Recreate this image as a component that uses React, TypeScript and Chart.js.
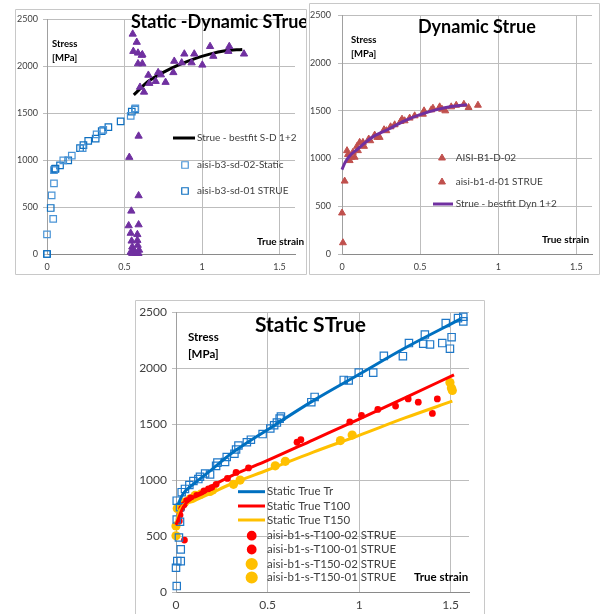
import React, { useEffect, useRef } from "react";
import { Chart, registerables } from "chart.js";

Chart.register(...registerables);

const FONT = "Lato, 'Noto Sans', sans-serif";

// ---------------- Chart A : Static -Dynamic STrue ----------------
const sd02Strain = [0, 0.04, 0.03, 0.045, 0.045, 0.105, 0.16, 0.23, 0.32, 0.363, 0.54, 0.57];
const sd02Stress = [210, 375, 625, 753, 893, 997, 1049, 1128, 1275, 1323, 1472, 1552];
const sd01Strain = [0, 0, 0.024, 0.05, 0.055, 0.084, 0.137, 0.213, 0.235, 0.266, 0.314, 0.353, 0.396, 0.475, 0.547, 0.568];
const sd01Stress = [0, 0, 490, 905, 910, 945, 997, 1128, 1160, 1205, 1229, 1309, 1351, 1413, 1517, 1542];
const dynSdStrain = [0.553, 0.579, 0.557, 0.587, 0.611, 0.615, 0.587, 0.615, 0.6, 0.626, 0.654, 0.66, 0.701, 0.717, 0.735, 0.765, 0.815, 0.821, 0.869, 0.886, 0.933, 0.95, 1.002, 1.052, 1.073, 1.17, 1.176, 1.271,
  0.591, 0.531, 0.591, 0.544, 0.527, 0.591, 0.54, 0.583, 0.546, 0.583, 0.585, 0.55, 0.557, 0.594, 0.54, 0.574, 0.55, 0.59];
const dynSdStress = [2344, 2257, 2160, 2142, 2118, 2125, 2028, 2028, 1778, 1726, 1906, 1819, 1840, 1934, 1910, 1830, 1934, 2055, 2038, 2132, 2038, 2132, 2014, 2212, 2108, 2160, 2212, 2132,
  1257, 1031, 622, 458, 302, 312, 222, 208, 139, 146, 94, 76, 42, 42, 20, 7, 7, 7];
const fitSdStrain = [0.56, 0.65, 0.75, 0.85, 0.95, 1.05, 1.15, 1.26];
const fitSdStress = [1695, 1835, 1935, 2015, 2080, 2130, 2165, 2180];

// ---------------- Chart B : Dynamic Strue ----------------
const d02Strain = [0.006, 0.017, 0.038, 0.06, 0.081, 0.102, 0.134, 0.171, 0.209, 0.241, 0.284, 0.337, 0.384, 0.433, 0.518, 0.571, 0.625, 0.661, 0.731, 0.81];
const d02Stress = [118, 764, 1042, 1014, 1014, 1083, 1170, 1205, 1246, 1222, 1292, 1354, 1413, 1424, 1465, 1510, 1542, 1500, 1559, 1535];
const d01Strain = [0, 0.032, 0.049, 0.07, 0.096, 0.113, 0.141, 0.181, 0.226, 0.269, 0.311, 0.375, 0.401, 0.465, 0.525, 0.582, 0.64, 0.699, 0.78, 0.87];
const d01Stress = [430, 1083, 979, 1066, 1128, 1170, 1128, 1187, 1222, 1302, 1333, 1389, 1396, 1448, 1500, 1528, 1517, 1542, 1569, 1559];
const fitDynStrain = [0, 0.02, 0.05, 0.1, 0.15, 0.2, 0.3, 0.4, 0.5, 0.6, 0.7, 0.8];
const fitDynStress = [885, 960, 1030, 1100, 1170, 1230, 1310, 1395, 1460, 1510, 1545, 1565];

// ---------------- Chart C : Static STrue ----------------
const trStrain = [0.004, 0, 0.007, 0.026, 0.026, 0.016, 0.022, 0.004, 0.022, 0.004, 0.031, 0.049, 0.073, 0.095, 0.122, 0.131, 0.159, 0.186, 0.219, 0.226, 0.268, 0.277, 0.319, 0.328, 0.341, 0.387, 0.409, 0.473, 0.515, 0.536, 0.551, 0.566, 0.573, 0.739, 0.757, 0.916, 0.943, 0.998, 1.077, 1.135, 1.239, 1.272, 1.35, 1.359, 1.387, 1.454, 1.473, 1.496, 1.505, 1.54, 1.569, 1.569];
const trStress = [53, 217, 276, 276, 381, 487, 628, 648, 757, 816, 892, 921, 956, 992, 1009, 1030, 1059, 1050, 1127, 1156, 1162, 1206, 1235, 1273, 1309, 1338, 1361, 1411, 1461, 1490, 1514, 1549, 1567, 1696, 1743, 1895, 1890, 1960, 1960, 2110, 2107, 2224, 2218, 2300, 2212, 2224, 2403, 2174, 2277, 2447, 2459, 2418];
const t100a02Strain = [0.046, 0.022, 0.044, 0.08, 0.137, 0.177, 0.219, 0.328, 0.661, 0.949, 1.102, 1.268, 1.4];
const t100a02Stress = [464, 687, 780, 840, 868, 921, 962, 1068, 1338, 1520, 1631, 1725, 1596];
const t100a01Strain = [0.018, 0.031, 0.058, 0.113, 0.153, 0.195, 0.281, 0.396, 0.682, 1.013, 1.199, 1.323, 1.427];
const t100a01Stress = [634, 745, 816, 863, 904, 933, 1015, 1109, 1361, 1578, 1661, 1696, 1725];
const t150a02Strain = [0, 0.007, 0.049, 0.104, 0.186, 0.314, 0.542, 0.898, 1.496, 1.504];
const t150a02Stress = [502, 745, 804, 863, 898, 962, 1127, 1353, 1872, 1822];
const t150a01Strain = [0, 0.026, 0.077, 0.135, 0.2, 0.35, 0.597, 0.962, 1.509];
const t150a01Stress = [590, 757, 833, 874, 912, 1000, 1168, 1402, 1801];
const fitTrStrain = [0.01, 0.04, 0.1, 0.2, 0.3, 0.5, 0.75, 1.0, 1.25, 1.555];
const fitTrStress = [780, 880, 970, 1100, 1235, 1450, 1710, 1945, 2180, 2440];
const fitT100Strain = [0, 0.04, 0.1, 0.2, 0.3, 0.5, 0.75, 1.0, 1.25, 1.518];
const fitT100Stress = [600, 760, 850, 950, 1035, 1175, 1360, 1545, 1735, 1940];
const fitT150Strain = [0, 0.022, 0.1, 0.2, 0.3, 0.5, 0.75, 1.0, 1.25, 1.509];
const fitT150Stress = [600, 736, 815, 890, 965, 1090, 1250, 1400, 1555, 1705];

const xTicks = [0, 0.5, 1, 1.5];
const yTicks = [0, 500, 1000, 1500, 2000, 2500];

const zip = (xs: number[], ys: number[]) => xs.map((x, i) => ({ x, y: ys[i] }));

type TextItem = { text: string; x: number; y: number; font: string; color?: string };
type LegendItem = { ds: number; x: number; y: number; tx: number; len?: number };
type Overlay = {
  texts: TextItem[];
  legend: LegendItem[];
  legendFont: string;
  frame: { bottom: boolean };
};

function drawSymbol(ctx: CanvasRenderingContext2D, ds: any, x: number, y: number) {
  const r = ds.pointRadius;
  ctx.save();
  ctx.lineWidth = ds.pointBorderWidth ?? 1;
  ctx.strokeStyle = ds.pointBorderColor;
  ctx.fillStyle = ds.pointBackgroundColor;
  ctx.beginPath();
  if (ds.pointStyle === "rect") {
    const s = Math.SQRT1_2 * r;
    ctx.rect(x - s, y - s, 2 * s, 2 * s);
  } else if (ds.pointStyle === "triangle") {
    for (let k = 0; k < 3; k++) {
      const a = (k * 2 * Math.PI) / 3;
      const px = x + Math.sin(a) * r;
      const py = y - Math.cos(a) * r;
      if (k === 0) ctx.moveTo(px, py); else ctx.lineTo(px, py);
    }
    ctx.closePath();
  } else {
    ctx.arc(x, y, r, 0, Math.PI * 2);
  }
  ctx.fill();
  ctx.stroke();
  ctx.restore();
}

function makeOverlay(o: Overlay) {
  return {
    id: "overlay",
    afterDatasetsDraw(chart: any) {
      const ctx: CanvasRenderingContext2D = chart.ctx;
      ctx.save();
      ctx.textBaseline = "middle";
      ctx.textAlign = "left";
      for (const t of o.texts) {
        ctx.font = t.font;
        ctx.fillStyle = t.color || "#000";
        ctx.fillText(t.text, t.x, t.y);
      }
      for (const it of o.legend) {
        const ds = chart.data.datasets[it.ds];
        if (it.len) {
          ctx.strokeStyle = ds.borderColor;
          ctx.lineWidth = ds.borderWidth;
          ctx.beginPath();
          ctx.moveTo(it.x, it.y);
          ctx.lineTo(it.x + it.len, it.y);
          ctx.stroke();
        } else {
          drawSymbol(ctx, ds, it.x, it.y);
        }
        ctx.font = o.legendFont;
        ctx.fillStyle = "#404040";
        ctx.fillText(ds.label, it.tx, it.y);
      }
      // frame
      const w = chart.width, h = chart.height;
      ctx.strokeStyle = "#c8c8c8";
      ctx.lineWidth = 1;
      ctx.beginPath();
      ctx.moveTo(0.5, o.frame.bottom ? h - 0.5 : h + 2);
      ctx.lineTo(0.5, 0.5);
      ctx.lineTo(w - 0.5, 0.5);
      ctx.lineTo(w - 0.5, o.frame.bottom ? h - 0.5 : h + 2);
      if (o.frame.bottom) ctx.lineTo(0.5, h - 0.5);
      ctx.stroke();
      ctx.restore();
    },
  };
}

type Geo = {
  yW: number; xH: number; padTop: number; padRight: number;
  tickFont: number; yTickLen: number; yPad: number; xPad: number;
};

function makeOptions(g: Geo) {
  return {
    animation: false,
    responsive: false,
    maintainAspectRatio: false,
    events: [],
    layout: { padding: { left: 0, right: g.padRight, top: g.padTop, bottom: 0 } },
    plugins: { legend: { display: false }, title: { display: false }, tooltip: { enabled: false } },
    scales: {
      x: {
        type: "linear",
        position: "bottom",
        min: 0,
        max: 1.6,
        afterFit: (s: any) => { s.height = g.xH; },
        afterBuildTicks: (s: any) => { s.ticks = xTicks.map((v) => ({ value: v })); },
        ticks: {
          autoSkip: false,
          maxRotation: 0,
          padding: g.xPad,
          color: "#404040",
          font: { family: FONT, size: g.tickFont },
          callback: (v: any) => String(v),
        },
        grid: { color: "#bdbdbd", lineWidth: 1, drawTicks: false },
        border: { color: "#8a8a8a", width: 1 },
      },
      y: {
        type: "linear",
        position: "left",
        min: 0,
        max: 2500,
        afterFit: (s: any) => { s.width = g.yW; },
        afterBuildTicks: (s: any) => { s.ticks = yTicks.map((v) => ({ value: v })); },
        ticks: {
          autoSkip: false,
          padding: g.yPad,
          color: "#404040",
          font: { family: FONT, size: g.tickFont },
          callback: (v: any) => String(v),
        },
        grid: { color: "#bdbdbd", lineWidth: 1, tickLength: g.yTickLen, drawTicks: true },
        border: { color: "#a0a0a0", width: 1 },
      },
    },
  };
}

const lineDs = (label: string, xs: number[], ys: number[], color: string, width: number) => ({
  type: "scatter",
  label,
  data: zip(xs, ys),
  showLine: true,
  borderColor: color,
  borderWidth: width,
  cubicInterpolationMode: "monotone",
  pointRadius: 0,
  pointHoverRadius: 0,
  clip: false,
});

const markDs = (label: string, xs: number[], ys: number[], style: string, r: number, stroke: string, fill: string, bw = 1) => ({
  type: "scatter",
  label,
  data: zip(xs, ys),
  showLine: false,
  pointStyle: style,
  pointRadius: r,
  pointHoverRadius: r,
  pointBorderColor: stroke,
  pointBackgroundColor: fill,
  pointBorderWidth: bw,
  borderColor: stroke,
  backgroundColor: fill,
  clip: false,
});

function buildA() {
  const datasets = [
    markDs("aisi-b3-sd-dyn", dynSdStrain, dynSdStress, "triangle", 4.2, "#7030a0", "#7030a0"),
    markDs("aisi-b3-sd-02-Static", sd02Strain, sd02Stress, "rect", 4.6, "#4a94d6", "rgba(0,0,0,0)", 1.2),
    markDs("aisi-b3-sd-01 STRUE", sd01Strain, sd01Stress, "rect", 4.6, "#0e6fc0", "rgba(0,0,0,0)", 1.2),
    lineDs("Strue - bestfit S-D 1+2", fitSdStrain, fitSdStress, "#000000", 3),
  ];
  const bold = (s: number) => `bold ${s}px ${FONT}`;
  return {
    type: "scatter",
    data: { datasets },
    options: makeOptions({ yW: 32, xH: 21, padTop: 6, padRight: 12, tickFont: 9, yTickLen: 4, yPad: 5, xPad: 8 }),
    plugins: [makeOverlay({
      texts: [
        { text: "Static -Dynamic STrue", x: 116, y: 13, font: bold(18) },
        { text: "Stress", x: 37, y: 34.5, font: bold(9.5) },
        { text: "[MPa]", x: 37, y: 48.5, font: bold(9.5) },
        { text: "True strain", x: 242, y: 233, font: bold(10) },
      ],
      legend: [
        { ds: 3, x: 158, y: 129, tx: 182, len: 22 },
        { ds: 1, x: 170, y: 156, tx: 182 },
        { ds: 2, x: 170, y: 182, tx: 182 },
      ],
      legendFont: `10px ${FONT}`,
      frame: { bottom: true },
    })],
  };
}

function buildB() {
  const datasets = [
    lineDs("Strue - bestfit Dyn 1+2", fitDynStrain, fitDynStress, "#7030a0", 3),
    markDs("AISI-B1-D-02", d02Strain, d02Stress, "triangle", 4, "#c0504d", "#c0504d"),
    markDs("aisi-b1-d-01 STRUE", d01Strain, d01Stress, "triangle", 4, "#c0504d", "#c0504d"),
  ];
  const bold = (s: number) => `bold ${s}px ${FONT}`;
  return {
    type: "scatter",
    data: { datasets },
    options: makeOptions({ yW: 33, xH: 21, padTop: 11, padRight: 8, tickFont: 9, yTickLen: 4, yPad: 7, xPad: 8 }),
    plugins: [makeOverlay({
      texts: [
        { text: "Dynamic Strue", x: 109, y: 24, font: bold(18) },
        { text: "Stress", x: 42, y: 37, font: bold(9.5) },
        { text: "[MPa]", x: 42, y: 50.7, font: bold(9.5) },
        { text: "True strain", x: 233, y: 236.3, font: bold(10) },
      ],
      legend: [
        { ds: 1, x: 133, y: 155, tx: 146.7 },
        { ds: 2, x: 133, y: 179, tx: 146.7 },
        { ds: 0, x: 124, y: 201, tx: 146.7, len: 20 },
      ],
      legendFont: `10px ${FONT}`,
      frame: { bottom: true },
    })],
  };
}

function buildC() {
  const datasets = [
    lineDs("Static True Tr", fitTrStrain, fitTrStress, "#0070c0", 3),
    lineDs("Static True T100", fitT100Strain, fitT100Stress, "#ff0000", 3),
    lineDs("Static True T150", fitT150Strain, fitT150Stress, "#ffc000", 3),
    markDs("aisi-b1-s-Tr STRUE", trStrain, trStress, "rect", 5.2, "#1f78c8", "rgba(0,0,0,0)", 1.2),
    markDs("aisi-b1-s-T100-02 STRUE", t100a02Strain, t100a02Stress, "circle", 3.4, "#ff0000", "#ff0000", 0),
    markDs("aisi-b1-s-T100-01 STRUE", t100a01Strain, t100a01Stress, "circle", 3.4, "#ff0000", "#ff0000", 0),
    markDs("aisi-b1-s-T150-02 STRUE", t150a02Strain, t150a02Stress, "circle", 4.6, "#ffc000", "#ffc000", 0),
    markDs("aisi-b1-s-T150-01 STRUE", t150a01Strain, t150a01Stress, "circle", 4.6, "#ffc000", "#ffc000", 0),
  ];
  const bold = (s: number) => `bold ${s}px ${FONT}`;
  return {
    type: "scatter",
    data: { datasets },
    options: makeOptions({ yW: 41, xH: 22, padTop: 8, padRight: 16, tickFont: 12, yTickLen: 4, yPad: 5, xPad: 6 }),
    plugins: [makeOverlay({
      texts: [
        { text: "Static STrue", x: 120, y: 25, font: bold(21) },
        { text: "Stress", x: 53, y: 37.3, font: bold(11.5) },
        { text: "[MPa]", x: 53, y: 54, font: bold(11.5) },
        { text: "True strain", x: 279, y: 277.3, font: bold(11.5) },
      ],
      legend: [
        { ds: 0, x: 103, y: 191.7, tx: 132, len: 27 },
        { ds: 1, x: 103, y: 206, tx: 132, len: 27 },
        { ds: 2, x: 103, y: 220, tx: 132, len: 27 },
        { ds: 4, x: 116.7, y: 235.7, tx: 132 },
        { ds: 5, x: 116.7, y: 249.5, tx: 132 },
        { ds: 6, x: 116.7, y: 264, tx: 132 },
        { ds: 7, x: 116.7, y: 277.5, tx: 132 },
      ],
      legendFont: `11.5px ${FONT}`,
      frame: { bottom: false },
    })],
  };
}

function ChartBox(props: { left: number; top: number; width: number; height: number; build: () => any }) {
  const ref = useRef<HTMLCanvasElement | null>(null);
  useEffect(() => {
    if (!ref.current) return;
    const chart = new Chart(ref.current, props.build());
    return () => chart.destroy();
  }, []);
  return (
    <canvas
      ref={ref}
      width={props.width}
      height={props.height}
      style={{ position: "absolute", left: props.left, top: props.top, width: props.width, height: props.height }}
    />
  );
}

export default function App() {
  return (
    <div style={{ position: "absolute", left: 0, top: 0, width: 603, height: 614, overflow: "hidden", background: "#fff" }}>
      <ChartBox left={15} top={9} width={292} height={266} build={buildA} />
      <ChartBox left={309} top={3} width={291} height={272} build={buildB} />
      <ChartBox left={135} top={300} width={350} height={314} build={buildC} />
    </div>
  );
}
